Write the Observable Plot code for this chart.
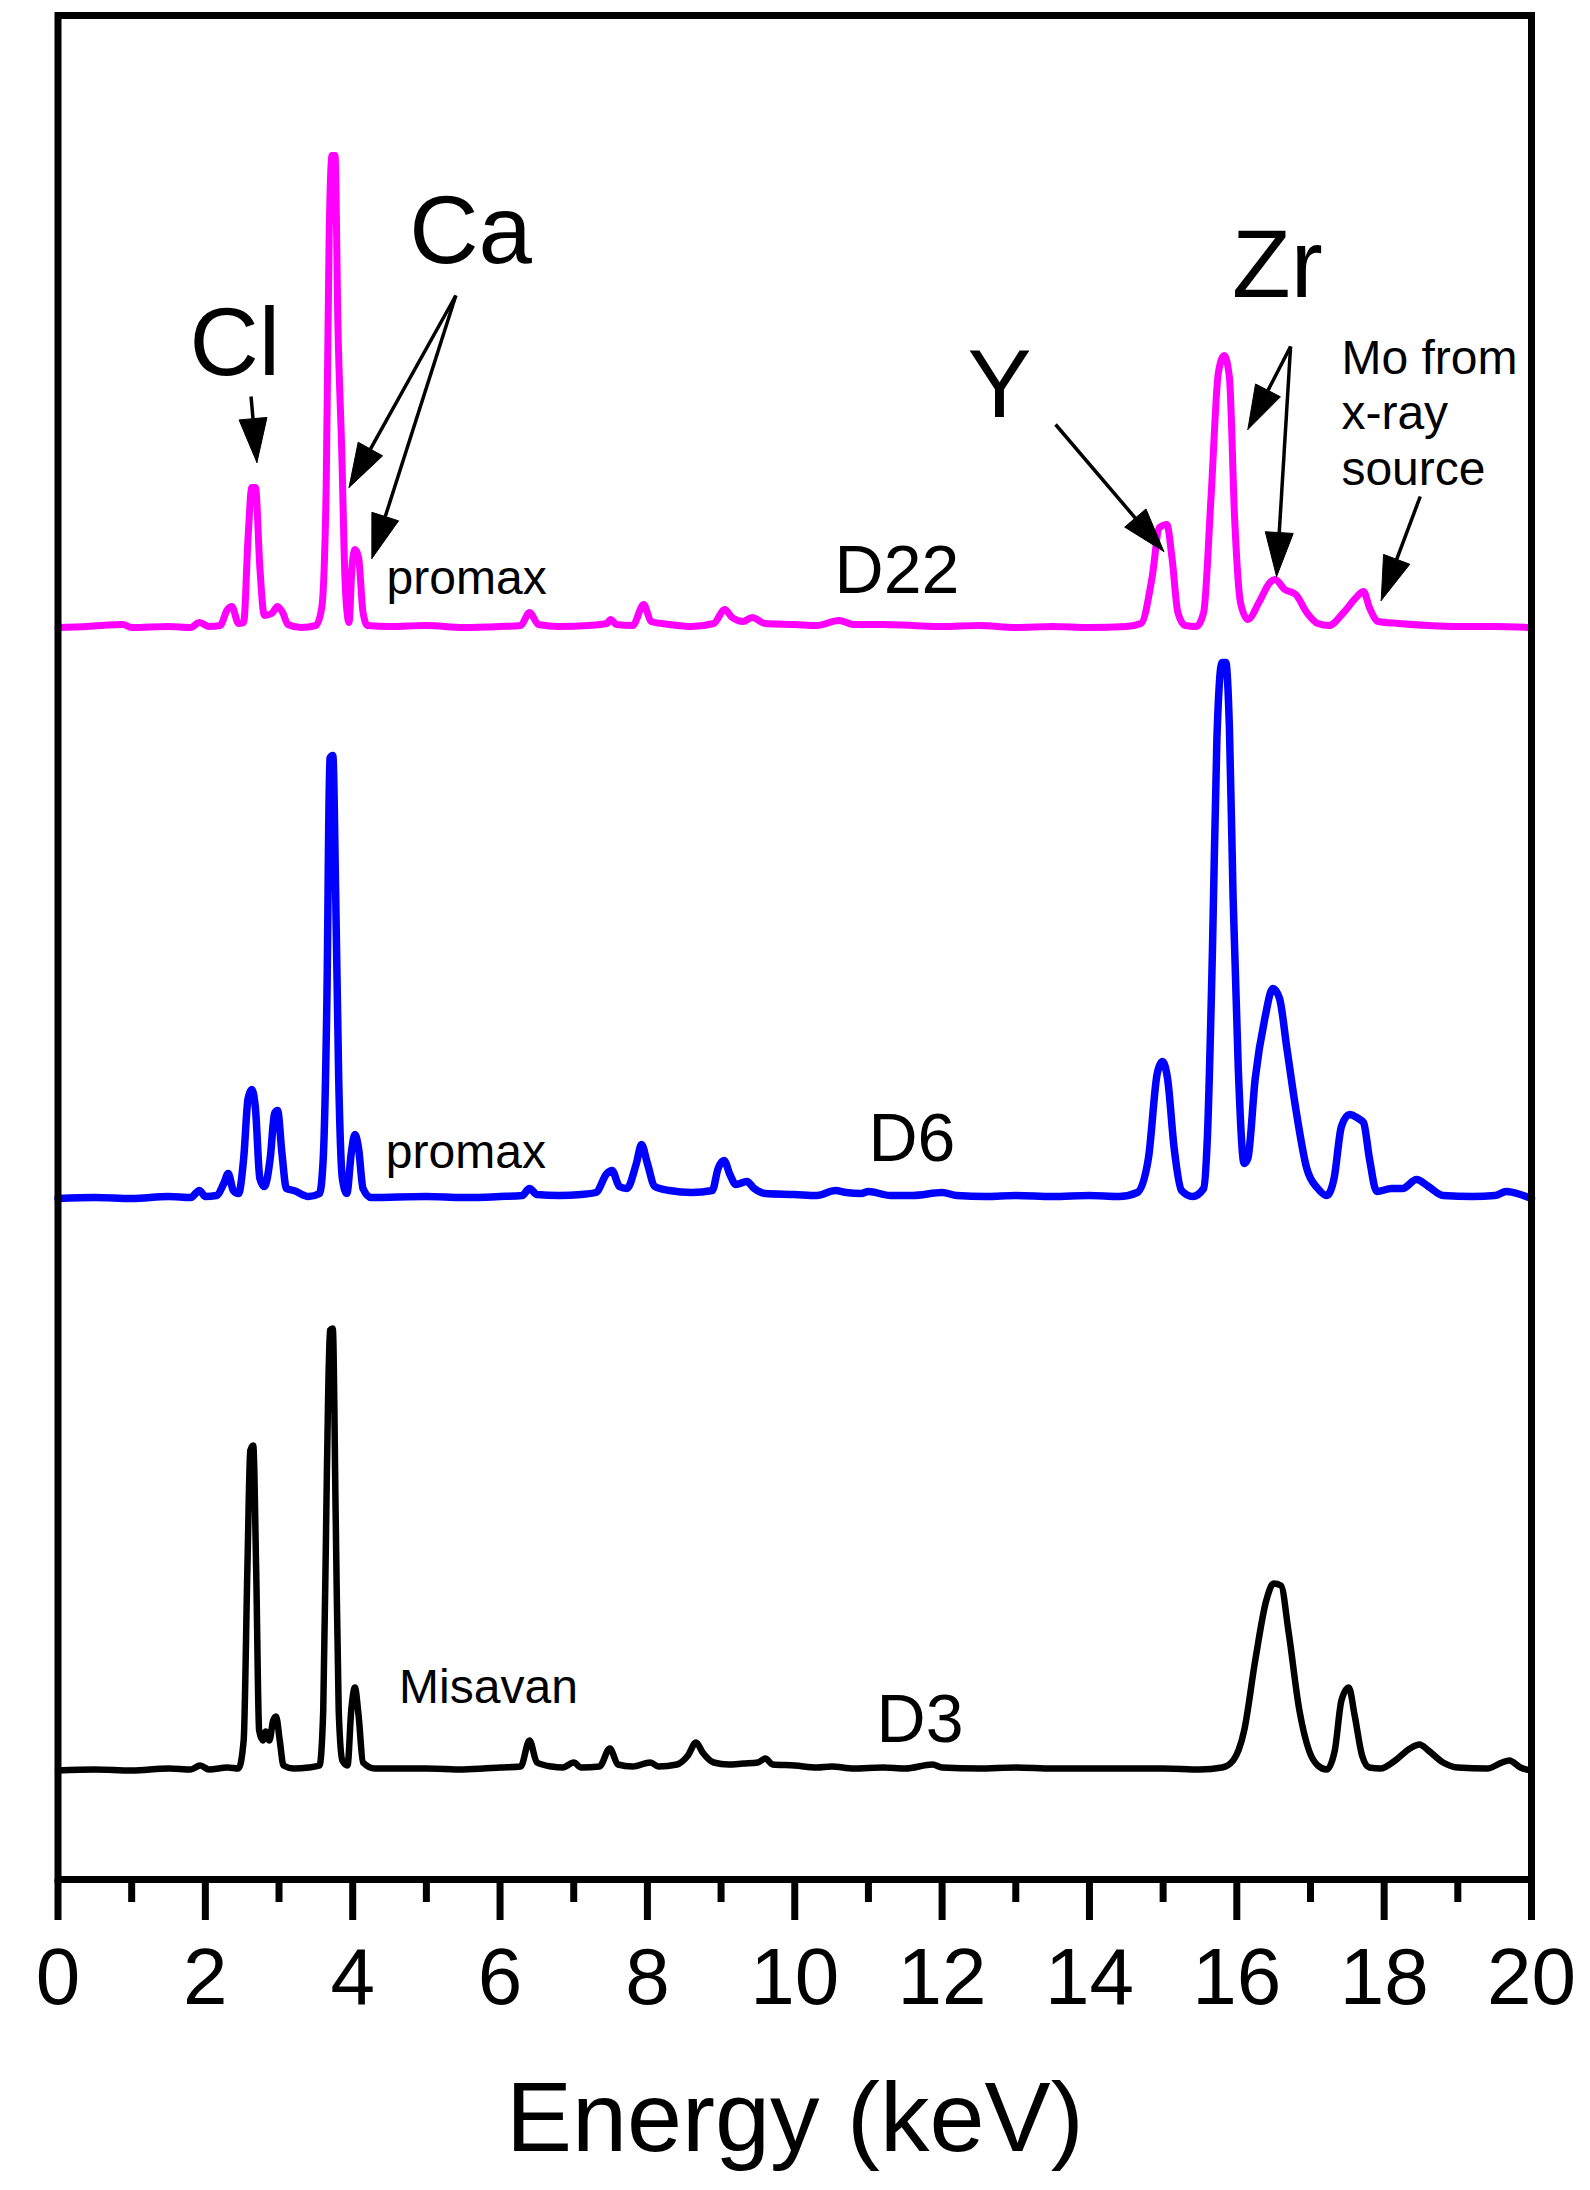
<!DOCTYPE html>
<html>
<head>
<meta charset="utf-8">
<script src="https://cdn.jsdelivr.net/npm/d3@7"></script>
<script src="https://cdn.jsdelivr.net/npm/@observablehq/plot@0.6"></script>
<style>
  html, body { margin: 0; padding: 0; background: #ffffff; }
  svg { display: block; }
</style>
</head>
<body>
<div id="chart"></div>
<script>
// ---- Data: [energy keV, intensity a.u. above the spectrum's own baseline] ----
const specD22 = [[0,0],[0.4,1],[0.88,3],[1.0,0],[1.5,1],[1.8,0],[1.92,5],[2.05,1],[2.2,2],[2.3,18],[2.36,21],[2.45,4],[2.52,5],[2.58,90],[2.63,140],[2.68,140],[2.74,60],[2.8,12],[2.9,14],[2.98,21],[3.05,15],[3.12,3],[3.3,0],[3.5,2],[3.58,20],[3.64,140],[3.68,390],[3.72,472],[3.76,472],[3.8,300],[3.85,180],[3.9,40],[3.95,5],[3.99,60],[4.03,78],[4.08,70],[4.14,15],[4.2,2],[4.5,1],[5.0,2],[5.5,0],[6.0,1],[6.28,2],[6.4,15],[6.52,3],[6.8,1],[7.2,2],[7.45,4],[7.5,8],[7.58,3],[7.8,2],[7.95,23],[8.05,6],[8.3,3],[8.6,1],[8.9,4],[9.05,18],[9.15,10],[9.3,6],[9.42,10],[9.6,4],[10.0,3],[10.3,2],[10.6,7],[10.8,3],[11.2,3],[11.6,2],[12.0,1],[12.5,2],[13.0,0],[13.5,1],[14.0,0],[14.5,1],[14.7,4],[14.85,50],[14.95,100],[15.05,103],[15.12,70],[15.2,15],[15.3,2],[15.45,1],[15.55,15],[15.65,130],[15.75,255],[15.83,272],[15.9,250],[15.97,110],[16.05,25],[16.15,8],[16.3,25],[16.45,45],[16.52,48],[16.65,38],[16.8,33],[16.95,15],[17.1,4],[17.25,2],[17.45,15],[17.62,30],[17.72,36],[17.8,20],[17.92,6],[18.2,4],[18.6,2],[19.0,1],[19.5,1],[20.0,0]];

const specD6 = [[0,0],[0.5,1],[1.0,0],[1.5,2],[1.8,1],[1.92,8],[2.0,2],[2.15,3],[2.25,15],[2.31,25],[2.38,8],[2.45,5],[2.52,40],[2.58,100],[2.63,109],[2.68,90],[2.74,20],[2.8,12],[2.88,40],[2.94,85],[2.98,88],[3.04,45],[3.1,10],[3.2,8],[3.4,2],[3.55,5],[3.6,40],[3.65,200],[3.69,440],[3.73,443],[3.77,300],[3.81,120],[3.86,20],[3.92,5],[3.98,45],[4.03,64],[4.08,50],[4.14,10],[4.25,1],[5.0,2],[5.5,1],[6.0,2],[6.3,3],[6.4,10],[6.5,4],[6.8,3],[7.1,4],[7.3,6],[7.45,25],[7.52,28],[7.62,12],[7.72,10],[7.85,35],[7.92,54],[8.0,35],[8.1,12],[8.3,8],[8.6,6],[8.88,8],[8.96,30],[9.04,38],[9.12,24],[9.2,14],[9.35,17],[9.45,10],[9.6,5],[10.0,4],[10.3,3],[10.55,8],[10.7,6],[10.9,5],[11.0,7],[11.3,3],[11.6,3],[12.0,6],[12.2,3],[12.6,2],[13.0,3],[13.5,2],[14.0,3],[14.4,2],[14.65,6],[14.8,40],[14.92,125],[14.99,137],[15.06,120],[15.15,50],[15.25,8],[15.4,2],[15.55,10],[15.6,60],[15.67,250],[15.73,460],[15.8,536],[15.85,536],[15.9,470],[15.95,300],[16.02,130],[16.1,35],[16.15,40],[16.25,120],[16.38,180],[16.49,210],[16.58,200],[16.68,150],[16.8,90],[16.95,30],[17.1,10],[17.22,3],[17.32,20],[17.42,72],[17.53,84],[17.65,80],[17.72,76],[17.8,40],[17.9,7],[18.1,10],[18.25,10],[18.44,19],[18.6,12],[18.8,3],[19.2,2],[19.5,3],[19.66,7],[19.85,4],[20,0]];

const specD3 = [[0,0],[0.5,1],[1.0,0],[1.5,2],[1.8,1],[1.93,5],[2.05,1],[2.3,3],[2.45,2],[2.52,30],[2.57,200],[2.61,320],[2.65,325],[2.69,200],[2.73,40],[2.78,30],[2.82,39],[2.87,30],[2.92,50],[2.96,54],[3.01,30],[3.06,5],[3.2,2],[3.4,3],[3.55,5],[3.6,60],[3.65,300],[3.69,440],[3.73,442],[3.77,250],[3.81,60],[3.86,10],[3.93,5],[3.98,60],[4.03,83],[4.08,55],[4.14,8],[4.3,2],[5.0,2],[5.5,1],[6.0,3],[6.28,4],[6.4,30],[6.5,8],[6.7,4],[6.85,3],[7.0,8],[7.1,3],[7.35,4],[7.49,22],[7.6,6],[7.8,4],[8.04,8],[8.15,4],[8.4,6],[8.55,15],[8.66,28],[8.75,18],[8.9,8],[9.1,6],[9.3,7],[9.5,8],[9.6,12],[9.7,6],[10.0,5],[10.3,3],[10.5,4],[10.8,2],[11.2,3],[11.5,2],[11.87,6],[12.0,3],[12.5,2],[13.0,3],[13.5,2],[14.0,2],[14.5,2],[15.0,2],[15.5,1],[15.8,3],[15.95,10],[16.1,40],[16.25,110],[16.4,170],[16.5,187],[16.6,185],[16.7,140],[16.85,60],[16.98,20],[17.1,5],[17.22,1],[17.33,20],[17.42,70],[17.52,83],[17.6,55],[17.7,15],[17.8,3],[17.95,2],[18.15,10],[18.35,22],[18.48,26],[18.6,20],[18.8,8],[19.0,3],[19.4,2],[19.6,8],[19.7,10],[19.85,3],[20,0]];

// vertical stacking offsets of the three spectra (a.u.)
const seriesNames = ["D3", "D6", "D22"];
const seriesOffsets = [0, 572, 1143];

const majorTicks = [0, 2, 4, 6, 8, 10, 12, 14, 16, 18, 20];
const minorTicks = [1, 3, 5, 7, 9, 11, 13, 15, 17, 19];

// annotation texts, anchored in data units (keV, a.u.)
const elementLabels = [
  {text: "Cl", E: 2.40, I: 1396},
  {text: "Ca", E: 5.60, I: 1508},
  {text: "Y",  E: 12.78, I: 1354},
  {text: "Zr", E: 16.55, I: 1474}
];
const sampleLabels = [
  {text: "D22", E: 10.54, I: 1178},
  {text: "D6",  E: 11.00, I: 610},
  {text: "D3",  E: 11.11, I: 29}
];
const siteLabels = [
  {text: "promax",  E: 4.46, I: 1177},
  {text: "promax",  E: 4.45, I: 603},
  {text: "Misavan", E: 4.63, I: 68}
];
const sourceNote = [{text: "Mo from\nx-ray\nsource", E: 17.42, I: 1286}];

// arrows: from (E1,I1) to tip (E2,I2)
const arrows = [
  {E1: 2.62,  I1: 1374, E2: 2.70,  I2: 1308},
  {E1: 5.40,  I1: 1475, E2: 3.95,  I2: 1283},
  {E1: 5.40,  I1: 1475, E2: 4.26,  I2: 1212},
  {E1: 13.54, I1: 1346, E2: 15.01, I2: 1219},
  {E1: 16.73, I1: 1424, E2: 16.15, I2: 1341},
  {E1: 16.73, I1: 1424, E2: 16.54, I2: 1194},
  {E1: 18.49, I1: 1274, E2: 17.96, I2: 1170}
];

// ---- Layout ----
const W = 1590, H = 2190;
const mL = 57.5, mR = 59, mT = 15, mB = 311;
const xDomain = [0, 20];
const yDomain = [-109, 1755];

const toRows = (spec, name) => {
  const off = seriesOffsets[seriesNames.indexOf(name)];
  return spec.map(([E, v]) => ({E, I: v + off, s: name}));
};
const rowsD3 = toRows(specD3, "D3");
const rowsD6 = toRows(specD6, "D6");
const rowsD22 = toRows(specD22, "D22");

// mirror of the plot's scales, used only to shape the arrowheads in screen space
const sx = d3.scaleLinear(xDomain, [mL, W - mR]);
const sy = d3.scaleLinear(yDomain, [H - mB, mT]);
const headLen = 44, headHalf = 14;
const shafts = [], heads = [];
arrows.forEach((a, i) => {
  const x1 = sx(a.E1), y1 = sy(a.I1), x2 = sx(a.E2), y2 = sy(a.I2);
  const L = Math.hypot(x2 - x1, y2 - y1);
  const ux = (x2 - x1) / L, uy = (y2 - y1) / L;
  const bx = x2 - ux * headLen, by = y2 - uy * headLen;
  const px = -uy, py = ux;
  shafts.push({E1: a.E1, I1: a.I1, E2: sx.invert(bx), I2: sy.invert(by)});
  const pts = [[x2, y2], [bx + px * headHalf, by + py * headHalf], [bx - px * headHalf, by - py * headHalf], [x2, y2]];
  pts.forEach(([X, Y]) => heads.push({id: i, E: sx.invert(X), I: sy.invert(Y)}));
});

const font = "'Liberation Sans', Arial, Helvetica, sans-serif";
const lineOpts = {x: "E", y: "I", strokeLinejoin: "round", strokeLinecap: "round", curve: "monotone-x"};

const chart = Plot.plot({
  width: W,
  height: H,
  marginLeft: mL,
  marginRight: mR,
  marginTop: mT,
  marginBottom: mB,
  x: {domain: xDomain, label: null},
  y: {domain: yDomain, axis: null, label: null},
  style: {fontFamily: font, background: "#ffffff", color: "#000000", overflow: "visible"},
  marks: [
    Plot.line(rowsD3, {...lineOpts, stroke: "#000000", strokeWidth: 6.5}),
    Plot.line(rowsD6, {...lineOpts, stroke: "#0000ff", strokeWidth: 7.5}),
    Plot.line(rowsD22, {...lineOpts, stroke: "#ff00ff", strokeWidth: 7}),
    Plot.link(shafts, {x1: "E1", y1: "I1", x2: "E2", y2: "I2", stroke: "#000000", strokeWidth: 3.5}),
    Plot.line(heads, {x: "E", y: "I", z: "id", fill: "#000000", stroke: "#000000", strokeWidth: 1, curve: "linear"}),
    Plot.text(elementLabels, {x: "E", y: "I", text: "text", fontSize: 96, textAnchor: "middle", lineAnchor: "bottom", fill: "#000000"}),
    Plot.text(sampleLabels, {x: "E", y: "I", text: "text", fontSize: 68, textAnchor: "start", lineAnchor: "bottom", fill: "#000000"}),
    Plot.text(siteLabels, {x: "E", y: "I", text: "text", fontSize: 48, textAnchor: "start", lineAnchor: "bottom", fill: "#000000"}),
    Plot.text(sourceNote, {x: "E", y: "I", text: "text", fontSize: 48, lineHeight: 1.155, textAnchor: "start", lineAnchor: "bottom", fill: "#000000"}),
    Plot.axisX({ticks: majorTicks, tickSize: 41, tickPadding: 27, fontSize: 80, strokeWidth: 7, label: null, tickFormat: d => String(d)}),
    Plot.axisX({ticks: minorTicks, tickSize: 23, strokeWidth: 7, label: null, tickFormat: () => ""}),
    Plot.frame({stroke: "#000000", strokeWidth: 7}),
    Plot.text(["Energy (keV)"], {frameAnchor: "bottom", dy: 271, lineAnchor: "bottom", textAnchor: "middle", fontSize: 99, fill: "#000000"})
  ]
});

document.getElementById("chart").appendChild(chart);
</script>
</body>
</html>
